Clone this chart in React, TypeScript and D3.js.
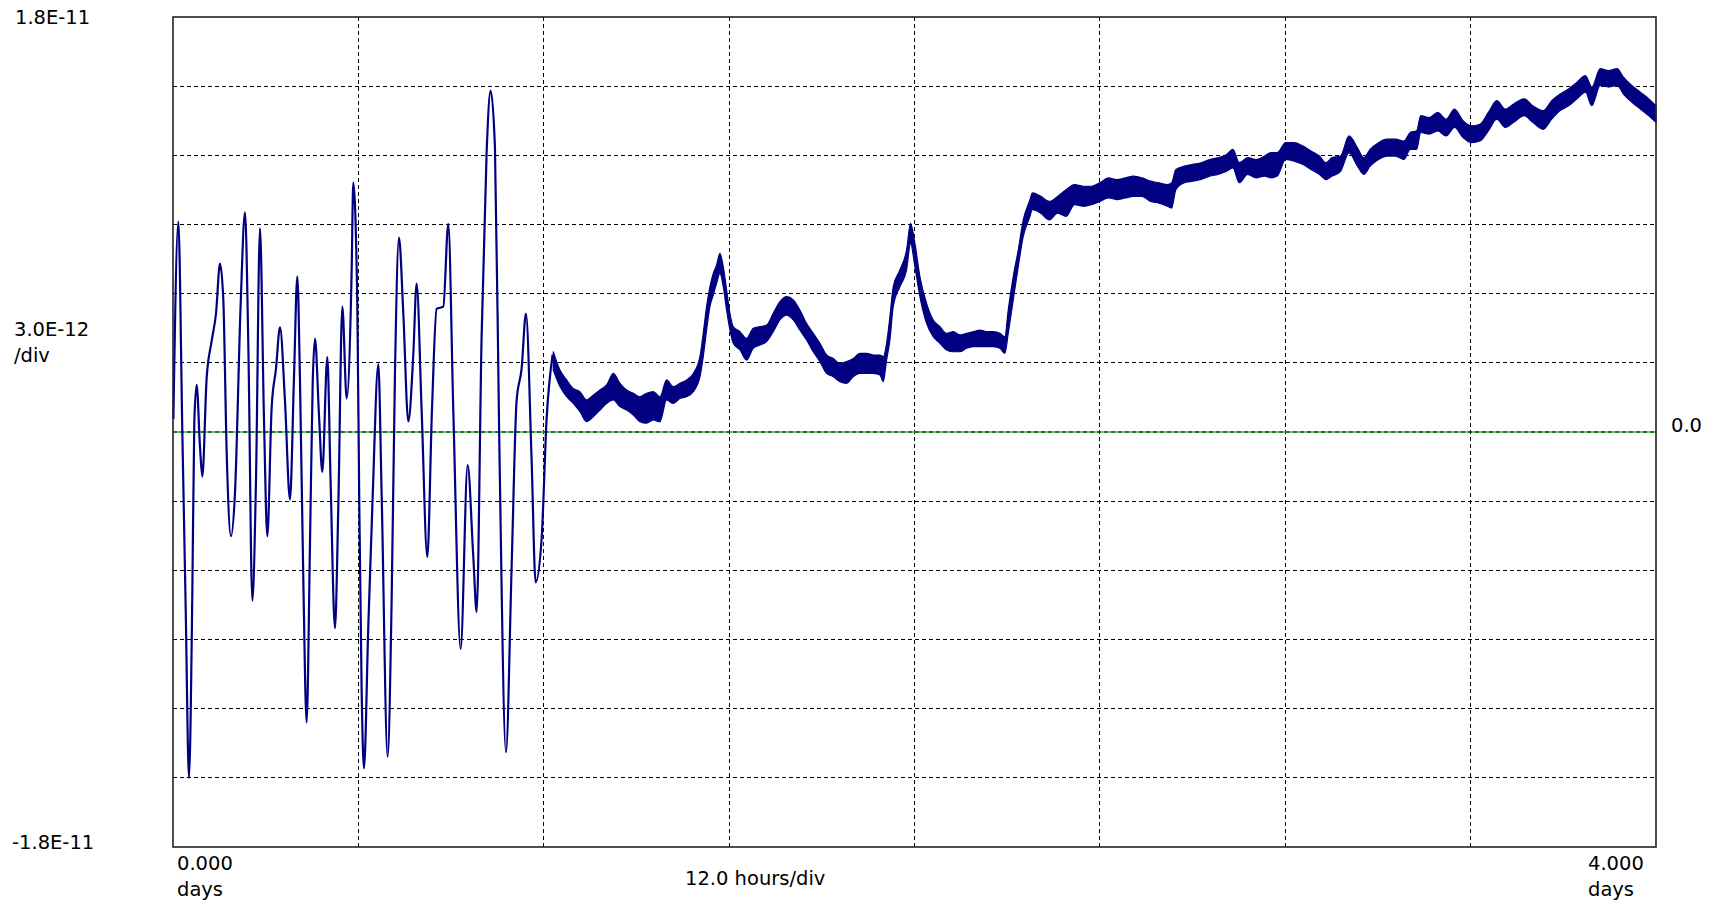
import React from "react";
import * as d3 from "d3";

// Sampled trace, time in days, signal in units of 1E-12.
// First day: a single oscillating trace.
const oscDays = [
  0.001, 0.0144, 0.0252, 0.0342, 0.0431, 0.0521, 0.0575, 0.0638, 0.0728, 0.0791,
  0.0908, 0.1043, 0.116, 0.1268, 0.1357, 0.1447, 0.1564, 0.1672, 0.1825, 0.1942,
  0.2032, 0.214, 0.2238, 0.2346, 0.2454, 0.2544, 0.2661, 0.2778, 0.2886, 0.302,
  0.3155, 0.3263, 0.3353, 0.3425, 0.3515, 0.3605, 0.3695, 0.3767, 0.383, 0.3937,
  0.4027, 0.4162, 0.4252, 0.4369, 0.4459, 0.4567, 0.4684, 0.4818, 0.4863, 0.4971,
  0.5025, 0.5088, 0.5151, 0.5268, 0.5385, 0.5538, 0.5628, 0.5789, 0.5897, 0.5987,
  0.6095, 0.6212, 0.6347, 0.6481, 0.6571, 0.6706, 0.6859, 0.6985, 0.7111, 0.7291,
  0.7425, 0.756, 0.7758, 0.7947, 0.81, 0.819, 0.8324, 0.8459, 0.8567, 0.8684,
  0.8801, 0.8981, 0.9134, 0.9268, 0.9403, 0.952, 0.9673, 0.9781, 0.9943, 1.0077,
  1.0239,
];
const oscValues = [
  0.56, 9.13, -0.04, -7.61, -14.99, -7.02, 0.46, 2.05, -0.64, -1.93,
  2.35, 3.95, 5.14, 7.3, 5.74, -0.84, -4.52, -2.63, 5.54, 9.53,
  3.75, -7.32, -2.13, 8.83, 0.56, -4.52, 1.06, 2.75, 4.54, 1.36,
  -2.93, 2.35, 6.74, 2.25, -6.42, -12.6, -4.82, 2.05, 4.05, 0.76,
  -1.73, 3.25, -2.23, -8.51, -3.23, 5.44, 1.46, 6.94, 10.82, 5.54,
  -3.23, -11.2, -14.59, -8.41, -2.83, 2.95, -2.73, -14.09, -7.32, 2.55,
  8.43, 5.14, 0.46, 3.35, 6.44, 0.96, -5.42, 0.96, 5.34, 5.44,
  9.03, 0.96, -9.41, -1.44, -5.42, -7.81, 4.15, 12.12, 14.81, 12.32,
  -0.44, -13.89, -5.82, 1.36, 2.75, 5.14, -1.24, -6.52, -4.62, 0.56,
  3.35,
];

// Remaining days: noisy trace given as its upper and lower envelope.
const bandDays = [
  1.0257, 1.0437, 1.0617, 1.0796, 1.0976, 1.1156, 1.1336, 1.1516, 1.1696, 1.1875,
  1.2055, 1.2235, 1.2415, 1.2594, 1.2774, 1.2954, 1.3134, 1.3314, 1.3493, 1.3673,
  1.3853, 1.4033, 1.4213, 1.4302, 1.4392, 1.4482, 1.4572, 1.4662, 1.4752, 1.4842,
  1.4932, 1.5022, 1.5111, 1.5291, 1.5471, 1.5651, 1.5831, 1.6011, 1.619, 1.637,
  1.655, 1.673, 1.6909, 1.7089, 1.7269, 1.7449, 1.7629, 1.7808, 1.7988, 1.8168,
  1.8348, 1.8528, 1.8707, 1.8887, 1.9067, 1.9157, 1.9247, 1.9337, 1.9426, 1.9606,
  1.9786, 1.9894, 2.0011, 2.0146, 2.0326, 2.0505, 2.0685, 2.0865, 2.1045, 2.1224,
  2.1404, 2.1584, 2.1764, 2.1944, 2.2123, 2.2303, 2.2438, 2.2528, 2.2663, 2.2798,
  2.2932, 2.3112, 2.3178, 2.3406, 2.3634, 2.3861, 2.4089, 2.4317, 2.4545, 2.4773,
  2.5, 2.5228, 2.5456, 2.5684, 2.5911, 2.6139, 2.6367, 2.6595, 2.6823, 2.6936,
  2.705, 2.7278, 2.7506, 2.7734, 2.7962, 2.8189, 2.8417, 2.8588, 2.8759, 2.8987,
  2.9214, 2.9442, 2.9613, 2.9784, 3.0012, 3.024, 3.0467, 3.0695, 3.0923, 3.1094,
  3.1264, 3.1492, 3.172, 3.1948, 3.2118, 3.2289, 3.2517, 3.2745, 3.2973, 3.32,
  3.3371, 3.3542, 3.3656, 3.3884, 3.4112, 3.434, 3.4567, 3.4795, 3.5023, 3.5251,
  3.5478, 3.5706, 3.5934, 3.6162, 3.6446, 3.6674, 3.6959, 3.7187, 3.7414, 3.7642,
  3.787, 3.8098, 3.8268, 3.8496, 3.8724, 3.8951, 3.9122, 3.935, 3.9578, 3.9806,
  4.0,
];
const bandUpper = [
  3.48, 2.69, 2.26, 1.89, 1.75, 1.39, 1.6, 1.82, 2.04, 2.54,
  2.11, 1.82, 1.68, 1.53, 1.68, 1.75, 1.53, 2.26, 1.97, 2.11,
  2.26, 2.54, 3.27, 4.28, 5.44, 6.3, 6.88, 7.24, 7.75, 7.17,
  6.16, 5.15, 4.57, 4.35, 4.06, 4.5, 4.57, 4.64, 5.15, 5.65,
  5.87, 5.73, 5.29, 4.71, 4.28, 3.85, 3.34, 3.19, 2.98, 3.05,
  3.19, 3.41, 3.41, 3.34, 3.34, 3.27, 3.85, 5.0, 6.3, 7.03,
  7.89, 9.05, 8.18, 6.74, 5.58, 4.86, 4.57, 4.28, 4.35, 4.21,
  4.28, 4.35, 4.42, 4.35, 4.35, 4.28, 4.13, 5.29, 6.74, 7.89,
  9.19, 10.06, 10.37, 10.22, 10.0, 10.22, 10.51, 10.73, 10.66, 10.66,
  10.81, 11.02, 10.95, 11.02, 11.1, 11.02, 10.88, 10.81, 10.73, 10.81,
  11.39, 11.53, 11.61, 11.68, 11.82, 11.9, 12.04, 12.26, 11.68, 11.9,
  11.82, 11.97, 12.12, 12.12, 12.55, 12.55, 12.41, 12.19, 11.97, 11.68,
  11.9, 11.97, 12.84, 12.33, 11.9, 12.26, 12.55, 12.7, 12.7, 12.62,
  12.99, 13.06, 13.72, 13.64, 13.86, 13.57, 14.01, 13.5, 13.28, 13.35,
  13.86, 14.37, 14.01, 14.23, 14.45, 14.15, 13.94, 14.37, 14.66, 14.88,
  15.17, 15.46, 14.96, 15.76, 15.68, 15.76, 15.39, 15.03, 14.74, 14.45,
  14.15,
];
const bandLower = [
  2.69, 1.97, 1.53, 1.24, 0.88, 0.45, 0.66, 0.95, 1.24, 1.39,
  1.1, 0.95, 0.74, 0.45, 0.38, 0.52, 0.45, 1.39, 1.24, 1.46,
  1.53, 1.75, 2.4, 3.27, 4.42, 5.44, 5.94, 6.45, 6.88, 6.3,
  5.29, 4.42, 3.85, 3.56, 3.12, 3.63, 3.77, 3.92, 4.35, 4.86,
  5.07, 4.86, 4.42, 3.99, 3.48, 3.05, 2.54, 2.4, 2.18, 2.11,
  2.4, 2.54, 2.54, 2.54, 2.47, 2.18, 3.12, 3.99, 5.44, 6.3,
  7.03, 8.18, 7.17, 5.87, 4.71, 4.13, 3.85, 3.56, 3.48, 3.48,
  3.63, 3.7, 3.7, 3.7, 3.7, 3.63, 3.41, 4.28, 5.73, 7.17,
  8.47, 9.34, 9.64, 9.49, 9.2, 9.49, 9.35, 9.86, 9.79, 9.86,
  10.0, 10.15, 10.08, 10.15, 10.22, 10.22, 10.0, 9.93, 9.79, 9.71,
  10.51, 10.81, 10.88, 10.95, 11.1, 11.17, 11.31, 11.46, 10.81, 11.17,
  11.02, 11.1, 11.02, 11.1, 11.82, 11.75, 11.61, 11.39, 11.17, 10.95,
  11.1, 11.31, 12.11, 11.53, 11.17, 11.53, 11.82, 11.97, 11.97, 11.82,
  12.26, 12.26, 12.99, 12.92, 13.06, 12.84, 13.21, 12.77, 12.55, 12.62,
  13.06, 13.57, 13.21, 13.43, 13.72, 13.43, 13.13, 13.57, 13.94, 14.15,
  14.45, 14.74, 14.15, 15.03, 14.96, 15.03, 14.66, 14.3, 14.01, 13.72,
  13.43,
];

// Grid divisions: 12 hours per division along x, 3.0E-12 per division along y.
const xGridDays = [0.5, 1, 1.5, 2, 2.5, 3, 3.5];
const yGridValues = [-15, -12, -9, -6, -3, 3, 6, 9, 12, 15];

const yTopLabel = "1.8E-11";
const yBottomLabel = "-1.8E-11";
const yScaleLabel = ["3.0E-12", "/div"];
const zeroLabel = "0.0";
const xStartLabel = ["0.000", "days"];
const xEndLabel = ["4.000", "days"];
const xScaleLabel = "12.0 hours/div";

const W = 1717;
const H = 907;
const PLOT = { left: 173, right: 1656, top: 17, bottom: 847 };
const TRACE = "#000080";
const FONT = "'DejaVu Sans', Verdana, sans-serif";

export default function App() {
  const x = d3.scaleLinear().domain([0, 4]).range([PLOT.left, PLOT.right]);
  const y = d3.scaleLinear().domain([-18, 18]).range([PLOT.bottom, PLOT.top]);

  const oscPath =
    d3
      .line<number>()
      .x((_, i) => x(oscDays[i]))
      .y((d) => y(d))
      .curve(d3.curveMonotoneX)(oscValues) ?? "";

  const bandPath =
    d3
      .area<number>()
      .x((d) => x(d))
      .y0((_, i) => y(bandLower[i]))
      .y1((_, i) => y(bandUpper[i]))
      .curve(d3.curveMonotoneX)(bandDays) ?? "";

  const textStyle = { fontFamily: FONT, fontSize: 19.5, fill: "#000" };

  return (
    <svg
      width={W}
      height={H}
      viewBox={`0 0 ${W} ${H}`}
      style={{ position: "fixed", left: 0, top: 0, background: "#fff" }}
    >
      <rect x={0} y={0} width={W} height={H} fill="#fff" />

      {/* dashed division grid */}
      <g stroke="#000" strokeWidth={1.2} strokeDasharray="4 3" shapeRendering="crispEdges">
        {xGridDays.map((d) => (
          <line key={`gx${d}`} x1={x(d)} x2={x(d)} y1={PLOT.top} y2={PLOT.bottom} />
        ))}
        {yGridValues.map((v) => (
          <line key={`gy${v}`} x1={PLOT.left} x2={PLOT.right} y1={y(v)} y2={y(v)} />
        ))}
      </g>

      {/* zero reference */}
      <line x1={PLOT.left} x2={PLOT.right} y1={y(0)} y2={y(0)} stroke="#2fbf2f" strokeWidth={1.4} />
      <line
        x1={PLOT.left}
        x2={PLOT.right}
        y1={y(0)}
        y2={y(0)}
        stroke="#000"
        strokeWidth={1.2}
        strokeDasharray="4 3"
      />

      {/* trace */}
      <path d={oscPath} fill="none" stroke={TRACE} strokeWidth={2.2} strokeLinejoin="round" />
      <path d={bandPath} fill={TRACE} stroke={TRACE} strokeWidth={1.2} strokeLinejoin="round" />

      {/* frame */}
      <rect
        x={PLOT.left}
        y={PLOT.top}
        width={PLOT.right - PLOT.left}
        height={PLOT.bottom - PLOT.top}
        fill="none"
        stroke="#222"
        strokeWidth={1.6}
      />

      {/* labels */}
      <text x={15} y={24} style={textStyle}>{yTopLabel}</text>
      <text x={14} y={336} style={textStyle}>{yScaleLabel[0]}</text>
      <text x={14} y={362} style={textStyle}>{yScaleLabel[1]}</text>
      <text x={12} y={849} style={textStyle}>{yBottomLabel}</text>
      <text x={1671} y={432} style={textStyle}>{zeroLabel}</text>
      <text x={x(0) + 4} y={870} style={textStyle}>{xStartLabel[0]}</text>
      <text x={x(0) + 4} y={896} style={textStyle}>{xStartLabel[1]}</text>
      <text x={685} y={885} style={textStyle}>{xScaleLabel}</text>
      <text x={1588} y={870} style={textStyle}>{xEndLabel[0]}</text>
      <text x={1588} y={896} style={textStyle}>{xEndLabel[1]}</text>
    </svg>
  );
}
